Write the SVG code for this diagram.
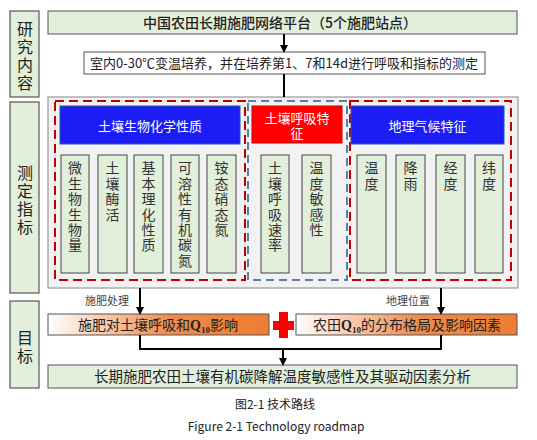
<svg xmlns="http://www.w3.org/2000/svg" width="537" height="440" viewBox="0 0 537 440">
<defs>
<style>
text{font-family:"Noto Sans CJK SC","Liberation Serif",serif;fill:#222}
.side{fill:#e2efda;stroke:#555;stroke-width:1.2}
.green{fill:#e2efda;stroke:#555;stroke-width:1}
.col{fill:#e2efda;stroke:#444;stroke-width:1}
.side-t{font-size:16px;text-anchor:middle}
.col-t{font-size:14px;text-anchor:middle;fill:#333}
.hdr-t{font-size:13px;text-anchor:middle;fill:#fff}
.conn{stroke:#000;stroke-width:2;fill:none}
.rdash{fill:none;stroke:#c00000;stroke-width:2;stroke-dasharray:9 5}
.bdash{fill:none;stroke:#2f5597;stroke-width:1.5;stroke-dasharray:8 5}
.lab{font-size:11px;fill:#444;text-anchor:middle}
</style>
<linearGradient id="og" x1="0" y1="0" x2="1" y2="0">
<stop offset="0" stop-color="#ffffff"/>
<stop offset="0.55" stop-color="#ef8c4c"/>
<stop offset="1" stop-color="#ed7d31"/>
</linearGradient>
<marker id="arr" markerWidth="8" markerHeight="8" refX="6" refY="4" orient="auto" markerUnits="userSpaceOnUse">
<path d="M0,0 L8,4 L0,8 Z" fill="#000"/>
</marker>
</defs>
<rect width="537" height="440" fill="#fff"/>

<g id="side1"><rect class="side" x="10" y="11" width="29" height="86"/>
<text class="side-t" x="25" y="35">研</text><text class="side-t" x="25" y="53">究</text><text class="side-t" x="25" y="71">内</text><text class="side-t" x="25" y="89">容</text></g>
<g id="side2"><rect class="side" x="10" y="102" width="29" height="191"/>
<text class="side-t" x="25" y="179">测</text><text class="side-t" x="25" y="197">定</text><text class="side-t" x="25" y="215">指</text><text class="side-t" x="25" y="233">标</text></g>
<g id="side3"><rect class="side" x="10" y="301" width="29" height="87"/>
<text class="side-t" x="25" y="344">目</text><text class="side-t" x="25" y="362">标</text></g>

<g id="platform"><rect class="green" x="48" y="11" width="469" height="23"/>
<text x="280" y="27.5" font-size="14" font-weight="500" text-anchor="middle">中国农田长期施肥网络平台（5个施肥站点）</text></g>

<g id="incubation"><rect x="84" y="52" width="401" height="22" fill="#fff" stroke="#555" stroke-width="1"/>
<text x="284" y="67.5" font-size="13" text-anchor="middle">室内0-30℃变温培养，并在培养第1、7和14d进行呼吸和指标的测定</text></g>

<g id="indicators">
<rect x="48" y="97" width="470" height="191" fill="#f2f2f2" stroke="#999" stroke-width="1.2"/>
<rect class="rdash" x="55" y="101" width="190" height="179"/>
<rect class="bdash" x="248" y="101" width="99" height="179"/>
<rect class="rdash" x="350" y="101" width="161" height="179"/>
</g>

<g id="hdr-bio"><rect x="60" y="106" width="180" height="38" fill="#1c1cf5" stroke="#2f5597" stroke-width="1"/>
<text class="hdr-t" x="150" y="130.5">土壤生物化学性质</text></g>
<g id="hdr-resp"><rect x="252" y="106" width="90" height="37" fill="#ff0000" stroke="#c00000" stroke-width="1"/>
<text class="hdr-t" x="297" y="122.5">土壤呼吸特</text><text class="hdr-t" x="297" y="138">征</text></g>
<g id="hdr-geo"><rect x="351" y="106" width="153" height="38" fill="#1c1cf5" stroke="#2f5597" stroke-width="1"/>
<text class="hdr-t" x="427.5" y="130.5">地理气候特征</text></g>

<g id="c1"><rect class="col" x="61" y="155" width="28" height="118"/>
<text class="col-t" x="75" y="173">微</text><text class="col-t" x="75" y="189">生</text><text class="col-t" x="75" y="204">物</text><text class="col-t" x="75" y="220">生</text><text class="col-t" x="75" y="235">物</text><text class="col-t" x="75" y="250">量</text></g>
<g id="c2"><rect class="col" x="98" y="155" width="29" height="118"/>
<text class="col-t" x="112.5" y="173">土</text><text class="col-t" x="112.5" y="189">壤</text><text class="col-t" x="112.5" y="204">酶</text><text class="col-t" x="112.5" y="220">活</text></g>
<g id="c3"><rect class="col" x="134" y="155" width="29" height="118"/>
<text class="col-t" x="148.5" y="173">基</text><text class="col-t" x="148.5" y="189">本</text><text class="col-t" x="148.5" y="204">理</text><text class="col-t" x="148.5" y="220">化</text><text class="col-t" x="148.5" y="235">性</text><text class="col-t" x="148.5" y="250">质</text></g>
<g id="c4"><rect class="col" x="171" y="155" width="28" height="118"/>
<text class="col-t" x="185" y="173">可</text><text class="col-t" x="185" y="189">溶</text><text class="col-t" x="185" y="204">性</text><text class="col-t" x="185" y="220">有</text><text class="col-t" x="185" y="235">机</text><text class="col-t" x="185" y="250">碳</text><text class="col-t" x="185" y="266">氮</text></g>
<g id="c5"><rect class="col" x="207" y="155" width="29" height="118"/>
<text class="col-t" x="221.5" y="173">铵</text><text class="col-t" x="221.5" y="189">态</text><text class="col-t" x="221.5" y="204">硝</text><text class="col-t" x="221.5" y="220">态</text><text class="col-t" x="221.5" y="235">氮</text></g>
<g id="c6"><rect class="col" x="261" y="155" width="28" height="118"/>
<text class="col-t" x="275" y="173">土</text><text class="col-t" x="275" y="189">壤</text><text class="col-t" x="275" y="204">呼</text><text class="col-t" x="275" y="220">吸</text><text class="col-t" x="275" y="235">速</text><text class="col-t" x="275" y="250">率</text></g>
<g id="c7"><rect class="col" x="302" y="155" width="29" height="118"/>
<text class="col-t" x="316.5" y="173">温</text><text class="col-t" x="316.5" y="189">度</text><text class="col-t" x="316.5" y="204">敏</text><text class="col-t" x="316.5" y="220">感</text><text class="col-t" x="316.5" y="235">性</text></g>
<g id="c8"><rect class="col" x="357" y="155" width="29" height="118"/>
<text class="col-t" x="371.5" y="173">温</text><text class="col-t" x="371.5" y="189">度</text></g>
<g id="c9"><rect class="col" x="396" y="155" width="29" height="118"/>
<text class="col-t" x="410.5" y="173">降</text><text class="col-t" x="410.5" y="189">雨</text></g>
<g id="c10"><rect class="col" x="436" y="155" width="29" height="118"/>
<text class="col-t" x="450.5" y="173">经</text><text class="col-t" x="450.5" y="189">度</text></g>
<g id="c11"><rect class="col" x="475" y="155" width="28" height="118"/>
<text class="col-t" x="489" y="173">纬</text><text class="col-t" x="489" y="189">度</text></g>

<g id="goal1"><rect x="48" y="314" width="221" height="21" fill="url(#og)" stroke="#555" stroke-width="1"/>
<text x="158" y="330" font-size="14" text-anchor="middle">施肥对土壤呼吸和<tspan font-family="Liberation Serif" font-weight="bold">Q</tspan><tspan font-family="Liberation Serif" font-weight="bold" font-size="9" dy="3">10</tspan><tspan dy="-3">影响</tspan></text></g>
<g id="plus"><path d="M279,312 H288 V321 H294 V330 H288 V338 H279 V330 H273 V321 H279 Z" fill="#ff0000"/></g>
<g id="goal2"><rect x="296" y="314" width="221" height="21" fill="url(#og)" stroke="#555" stroke-width="1"/>
<text x="407" y="330" font-size="14" text-anchor="middle">农田<tspan font-family="Liberation Serif" font-weight="bold">Q</tspan><tspan font-family="Liberation Serif" font-weight="bold" font-size="9" dy="3">10</tspan><tspan dy="-3">的分布格局及影响因素</tspan></text></g>

<g id="final"><rect class="green" x="48" y="365" width="469" height="23"/>
<text x="282.5" y="382" font-size="14.5" text-anchor="middle">长期施肥农田土壤有机碳降解温度敏感性及其驱动因素分析</text></g>

<g id="connectors">
<line class="conn" x1="284" y1="34" x2="284" y2="51" marker-end="url(#arr)"/>
<line class="conn" x1="284" y1="74" x2="284" y2="97"/>
<line class="conn" x1="140" y1="288" x2="140" y2="313" marker-end="url(#arr)"/>
<line class="conn" x1="441" y1="288" x2="441" y2="313" marker-end="url(#arr)"/>
<polyline class="conn" points="140,335 140,349 441,349 441,335"/>
<line class="conn" x1="283" y1="349" x2="283" y2="364" marker-end="url(#arr)"/>
<text class="lab" x="107" y="305">施肥处理</text>
<text class="lab" x="408" y="305">地理位置</text>
</g>

<g id="caption">
<text x="275" y="409" font-size="12" text-anchor="middle" fill="#000">图2-1 技术路线</text>
<text x="276" y="431" font-size="12" text-anchor="middle" fill="#000" font-family="Liberation Serif,serif">Figure 2-1 Technology roadmap</text>
</g>
</svg>
